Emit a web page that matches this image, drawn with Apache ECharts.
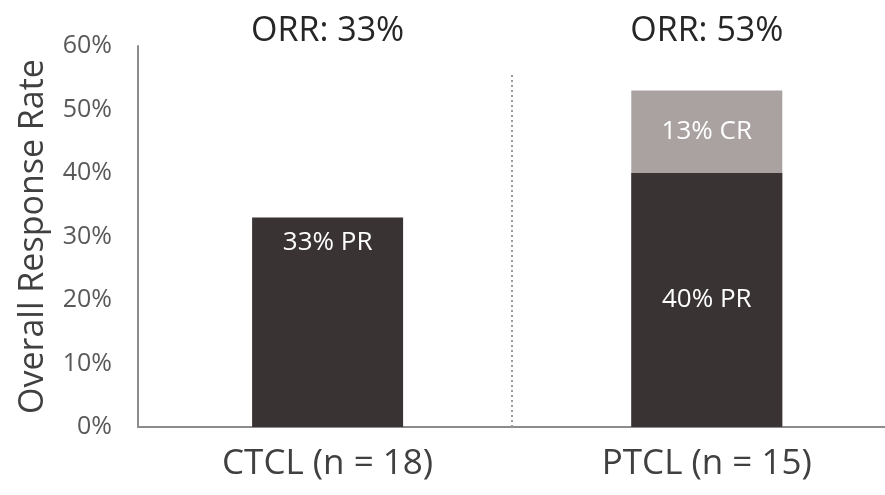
<!DOCTYPE html>
<html><head><meta charset="utf-8">
<script src="https://cdn.jsdelivr.net/npm/echarts@6/dist/echarts.min.js"></script>
<style>html,body{margin:0;padding:0;background:#fff}#c{width:885px;height:495px}</style>
</head><body><div id="c"></div>
<script>
const categories = ['CTCL (n = 18)', 'PTCL (n = 15)'];
const prValues = [33, 40];
const crValues = [null, 13];
const orrValues = [33, 53];
const yTicks = [0, 10, 20, 30, 40, 50, 60];

const FONT = '"Open Sans", Roboto, sans-serif';
const idx = categories.map((c, i) => i);
const totals = idx.map(i => crValues[i] == null ? null : prValues[i] + crValues[i]);
const yMax = yTicks[yTicks.length - 1];
const chart = echarts.init(document.getElementById('c'));
chart.setOption({
  animation: false,
  textStyle: { fontFamily: FONT },
  grid: { left: 138, top: 46, right: 0, bottom: 68, containLabel: false },
  xAxis: {
    type: 'value', min: -0.5, max: 1.47,
    axisLine: { show: true, onZero: false, lineStyle: { color: '#8c8c8c', width: 2 } },
    axisTick: { show: false },
    splitLine: { show: false },
    axisPointer: { show: false },
    axisLabel: { customValues: idx, color: '#404040', fontSize: 35, margin: 20, fontFamily: FONT,
      formatter: v => categories[Math.round(v)] }
  },
  yAxis: {
    type: 'value', min: yTicks[0], max: yMax, interval: 10,
    name: 'Overall Response Rate', nameLocation: 'middle', nameGap: 88,
    nameTextStyle: { color: '#404040', fontSize: 34, fontFamily: FONT },
    axisLine: { show: true, onZero: false, lineStyle: { color: '#8c8c8c', width: 2 } },
    axisTick: { show: false },
    splitLine: { show: false },
    axisLabel: { color: '#595959', fontSize: 25, margin: 26, formatter: v => v + '%', fontFamily: FONT }
  },
  series: [{
    name: 'ORR', type: 'bar', silent: true, barWidth: 151, barGap: '-100%',
    data: idx.map(i => ({ value: [i, yMax], orr: orrValues[i] })),
    itemStyle: { color: 'rgba(0,0,0,0)' },
    label: { show: true, position: 'top', distance: -2, color: '#262626', fontSize: 34, fontFamily: FONT,
      formatter: p => 'ORR: ' + p.data.orr + '%' },
    markLine: { symbol: 'none', silent: true, label: { show: false },
      lineStyle: { color: '#999', type: [2, 3], width: 2 },
      data: [[{ coord: [0.485, 0] }, { coord: [0.485, 55.5] }]] }
  }, {
    name: 'CR', type: 'bar', data: idx.filter(i => totals[i] != null).map(i => ({ value: [i, totals[i]], cr: crValues[i] })),
    barWidth: 151, barGap: '-100%',
    itemStyle: { color: '#aaa1a1' },
    label: { show: true, position: 'insideTop', distance: 28, color: '#fff', fontSize: 26, fontFamily: FONT,
      formatter: p => p.data.cr + '% CR' }
  }, {
    name: 'PR', type: 'bar', barWidth: 151, barGap: '-100%',
    data: idx.map(i => ({
      value: [i, prValues[i]],
      label: crValues[i] == null ? { position: 'insideTop', distance: 12 } : { position: 'inside' }
    })),
    itemStyle: { color: '#3a3334' },
    label: { show: true, color: '#fff', fontSize: 26, fontFamily: FONT,
      formatter: p => p.value[1] + '% PR' }
  }]
});
</script></body></html>
